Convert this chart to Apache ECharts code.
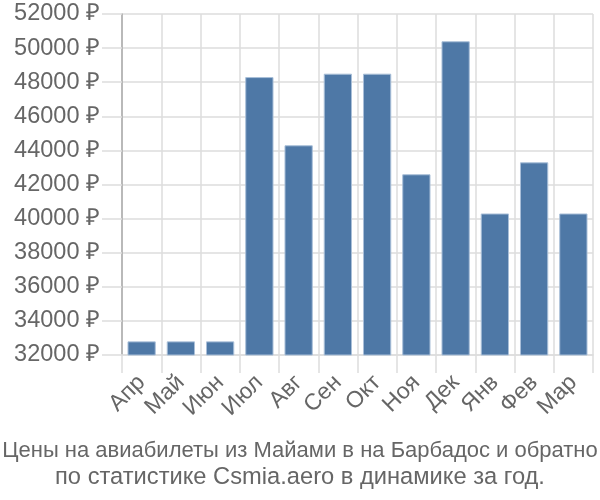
<!DOCTYPE html>
<html><head><meta charset="utf-8">
<script src="https://cdn.jsdelivr.net/npm/echarts@6/dist/echarts.min.js"></script>
<style>html,body{margin:0;padding:0;background:#fff}#c{width:600px;height:500px}</style>
</head><body><div id="c"></div>
<script>
const categories = ["Апр","Май","Июн","Июл","Авг","Сен","Окт","Ноя","Дек","Янв","Фев","Мар"];
const prices = [32800,32800,32800,48300,44300,48500,48500,42600,50400,40300,43300,40300];
const titleLines = ["Цены на авиабилеты из Майами в на Барбадос и обратно","по статистике Csmia.aero в динамике за год."];
const yMin = 32000, yMax = 52000, yStep = 2000;

const FONT = 'Liberation Sans';
const chart = echarts.init(document.getElementById('c'), null, {renderer:'canvas'});
chart.setOption({
  animation:false,
  backgroundColor:'#fff',
  textStyle:{fontFamily:FONT},
  title:[{
    text:titleLines[0],
    left:'center', top:435,
    textStyle:{color:'#666', fontSize:22, fontWeight:'normal', lineHeight:22, fontFamily:FONT}
  },{
    text:titleLines[1],
    left:'center', top:460,
    textStyle:{color:'#666', fontSize:23.7, fontWeight:'normal', lineHeight:24, fontFamily:FONT}
  }],
  grid:{left:122, right:7, top:14, bottom:145, containLabel:false},
  xAxis:{
    type:'category', data:categories,
    axisLine:{show:true, lineStyle:{color:'#ddd', width:1.5}},
    axisTick:{show:true, length:18, alignWithLabel:false, lineStyle:{color:'#ddd', width:1.5}},
    splitLine:{show:true, lineStyle:{color:'#ddd', width:1.5}},
    axisLabel:{rotate:45, color:'#666', fontSize:23, margin:24, interval:0}
  },
  yAxis:{
    type:'value', min:yMin, max:yMax, interval:yStep,
    axisLine:{show:true, lineStyle:{color:'#aaa', width:1.5}},
    axisTick:{show:true, length:20, lineStyle:{color:'#ddd', width:1.5}},
    splitLine:{show:true, lineStyle:{color:'#ddd', width:1.5}},
    axisLabel:{color:'#666', fontSize:23.5, margin:22, formatter:v=>v+' ₽'}
  },
  series:[{
    type:'bar', data:prices, barCategoryGap:'28%',
    itemStyle:{color:'#4e78a6', borderColor:'#a9bfd8', borderWidth:1}
  }]
});
</script></body></html>
